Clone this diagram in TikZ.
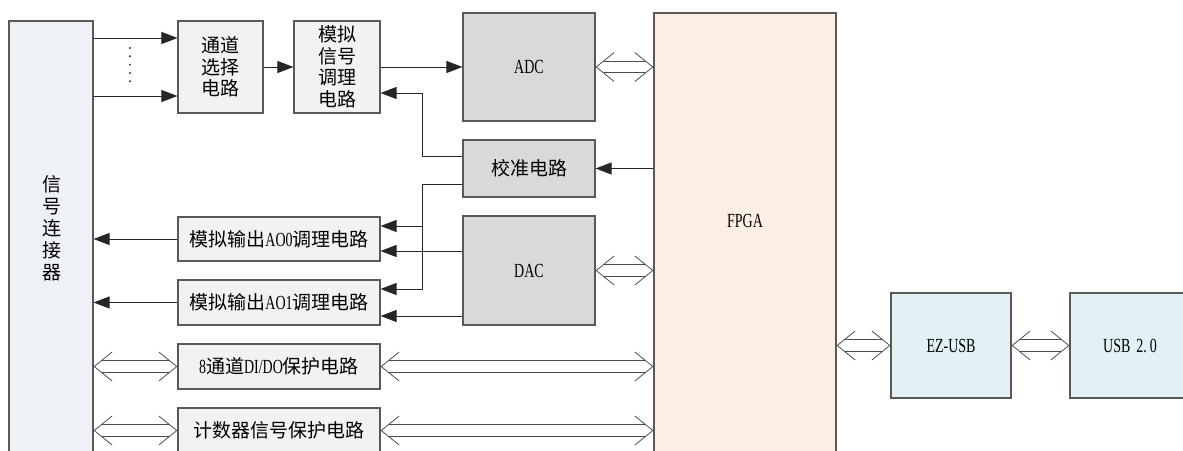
\documentclass[tikz,border=0pt]{standalone}
\usepackage{fontspec}
\setmainfont[FakeStretch=0.7]{Liberation Serif}
\newfontfamily\cjk{Noto Sans CJK SC}
\usetikzlibrary{arrows.meta,calc}

\definecolor{connfill}{HTML}{EEF2F7}
\definecolor{boxfill}{HTML}{F2F2F2}
\definecolor{chipfill}{HTML}{D9D9D9}
\definecolor{fpgafill}{HTML}{FDEEE3}
\definecolor{usbfill}{HTML}{E1F1F5}
\newcommand{\zh}[1]{{\cjk\fontsize{19}{21.5}\selectfont #1}}
% two-way bus: parallel lines plus open chevrons
\newcommand{\bus}[2]{%
  \draw[busline] #1 -- #2;
  \draw[bustip] #1 -- #2;}

\begin{document}
\begin{tikzpicture}[x=1pt,y=-1pt,
  block/.style={
    draw=black!65, line width=1.1pt, rectangle, inner sep=0pt,
    align=center, font=\fontsize{20}{21.5}\selectfont, fill=#1
  },
  block/.default=boxfill,
  zhfont/.style={font=\cjk\fontsize{19}{21.5}\selectfont},
  edge/.style={-{Triangle[length=16pt,width=12pt]}, line width=0.9pt, draw=black!85},
  busline/.style={draw=black!70, line width=0.8pt, double=white,
    double distance=10.5pt, shorten <=8pt, shorten >=8pt},
  bustip/.style={draw=white, line width=0.4pt,
    {Straight Barb[length=18pt,width=29pt,color=black!70,line width=0.8pt]}-{Straight Barb[length=18pt,width=29pt,color=black!70,line width=0.8pt]}}
]
\clip (0,0) rectangle (1183,450);

\node[block=connfill, minimum width=84pt, minimum height=480pt] (conn) at (51,261) {};
\node[zhfont, align=center, font=\cjk\fontsize{19}{22}\selectfont] (connlabel) at (52,228) {信\\号\\连\\接\\器};

\node[block, zhfont, minimum width=85pt, minimum height=92pt] (sel) at (220.5,67) {通道\\选择\\电路};
\node[block, zhfont, minimum width=86pt, minimum height=92pt] (cond) at (337,67) {模拟\\信号\\调理\\电路};
\node[block=chipfill, minimum width=132pt, minimum height=108pt] (adc) at (529,67) {ADC};
\node[block=chipfill, zhfont, minimum width=132pt, minimum height=57pt] (cal) at (529,168.5) {校准电路};
\node[block=chipfill, minimum width=132pt, minimum height=109pt] (dac) at (529,270.5) {DAC};

\node[block, minimum width=202pt, minimum height=44pt] (ao0) at (279,239) {\zh{模拟输出}AO0\zh{调理电路}};
\node[block, minimum width=202pt, minimum height=45pt] (ao1) at (279,302.5) {\zh{模拟输出}AO1\zh{调理电路}};
\node[block, minimum width=202pt, minimum height=45pt] (dio) at (279,366.5) {8\zh{通道}DI/DO\zh{保护电路}};
\node[block, zhfont, minimum width=202pt, minimum height=45pt] (cnt) at (279,430.5) {计数器信号保护电路};

\node[block=fpgafill, minimum width=182pt, minimum height=480pt] (fpga) at (745,253) {};
\node[font=\fontsize{20}{21.5}\selectfont] (fpgalabel) at (745,221) {FPGA};

\node[block=usbfill, minimum width=120pt, minimum height=105pt] (ezusb) at (951,345.5) {EZ-USB};
\node[block=usbfill, minimum width=120pt, minimum height=105pt] (usb) at (1130,345.5) {USB\hspace{6pt}2.\hspace{3pt}0};

% inputs to channel select
\coordinate (in1) at ([yshift=29pt]sel.west);
\coordinate (in2) at ([yshift=-29pt]sel.west);
\draw[edge] (conn.east |- in1) -- (in1);
\draw[edge] (conn.east |- in2) -- (in2);
\foreach \y in {48,56.3,64.6,72.9,81.2}
  \fill[black!80] (130,\y) circle (1.1pt);

\draw[edge] (sel) -- (cond);
\draw[edge] (cond) -- (adc);

% calibration paths
\draw[edge] (fpga.west |- cal.east) -- (cal.east);
\draw[edge] ([yshift=12.5pt]cal.west) -| ([xshift=42pt,yshift=-26pt]cond.east) -- ([yshift=-26pt]cond.east);
\draw[edge] ([yshift=-15.5pt]cal.west) -| ([xshift=42pt,yshift=13.5pt]ao1.east) -- ([yshift=13.5pt]ao1.east);
\draw[edge] ([xshift=42pt,yshift=13pt]ao0.east) -- ([yshift=13pt]ao0.east);

% DAC outputs
\coordinate (d0) at ([yshift=-12pt]ao0.east);
\coordinate (d1) at ([yshift=-13.5pt]ao1.east);
\draw[edge] (dac.west |- d0) -- (d0);
\draw[edge] (dac.west |- d1) -- (d1);
\draw[edge] (ao0.west) -- (conn.east |- ao0.west);
\draw[edge] (ao1.west) -- (conn.east |- ao1.west);

% buses
\bus{(adc.east)}{(fpga.west |- adc.east)}
\bus{(dac.east)}{(fpga.west |- dac.east)}
\bus{(conn.east |- dio.west)}{(dio.west)}
\bus{(dio.east)}{(fpga.west |- dio.east)}
\bus{(conn.east |- cnt.west)}{(cnt.west)}
\bus{(cnt.east)}{(fpga.west |- cnt.east)}
\bus{(fpga.east |- ezusb.west)}{(ezusb.west)}
\bus{(ezusb.east)}{(usb.west)}

\end{tikzpicture}
\end{document}
